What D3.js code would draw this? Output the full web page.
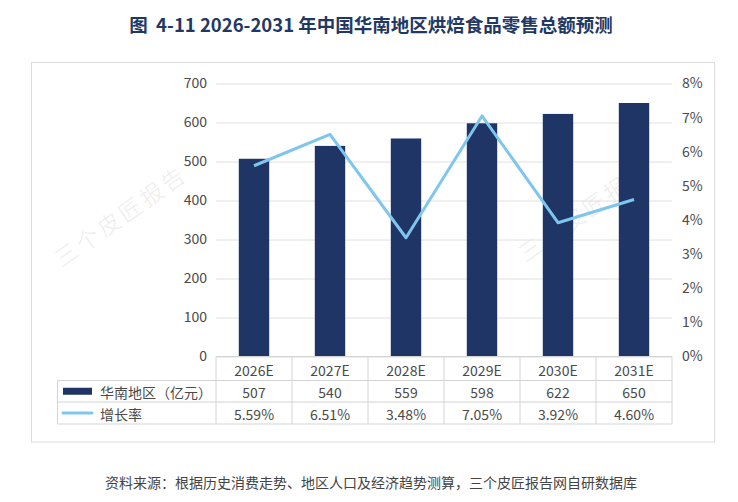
<!DOCTYPE html>
<html>
<head>
<meta charset="utf-8">
<script src="https://cdn.jsdelivr.net/npm/d3@7"></script>
<style>
  body { margin: 0; background: #fff; }
  text { font-family: "Noto Sans CJK SC", "Noto Sans", sans-serif; }
</style>
</head>
<body>
<div id="chart"></div>
<script>
const categories = ["2026E", "2027E", "2028E", "2029E", "2030E", "2031E"]
const sales = [507, 540, 559, 598, 622, 650]
const growth = [5.59, 6.51, 3.48, 7.05, 3.92, 4.60]
const leftTicks = [0, 100, 200, 300, 400, 500, 600, 700]
const rightTicks = [0, 1, 2, 3, 4, 5, 6, 7, 8]
const seriesNames = ["华南地区（亿元）", "增长率"]
const title = "图  4-11 2026-2031 年中国华南地区烘焙食品零售总额预测"
const source = "资料来源：根据历史消费走势、地区人口及经济趋势测算，三个皮匠报告网自研数据库"

const W = 738, H = 502
const margin = { left: 216, right: 66, top: 83.5, bottom: 145.5 }
const barColor = "#1f3566", lineColor = "#7fc6ef", gridColor = "#e0e0e0", tableColor = "#d4d4d4"
const textColor = "#4a4a4a"

const svg = d3.select("#chart").append("svg").attr("width", W).attr("height", H)

const x = d3.scaleBand().domain(categories).range([margin.left, W - margin.right])
const y = d3.scaleLinear().domain([0, 700]).range([H - margin.bottom, margin.top])
const y2 = d3.scaleLinear().domain([0, 8]).range([H - margin.bottom, margin.top])

// title
svg.append("text").attr("x", 371).attr("y", 32).attr("text-anchor", "middle")
  .style("white-space", "pre")
  .attr("font-size", 18.5).attr("font-weight", "bold").attr("fill", "#1f3864").text(title)

// outer frame
svg.append("rect").attr("x", 31.5).attr("y", 62.5).attr("width", 683).attr("height", 379.5)
  .attr("fill", "none").attr("stroke", "#dcdcdc")

// watermarks
const marks = [[120, 215], [584, 210]]
svg.selectAll(".wm").data(marks).join("text").attr("class", "wm")
  .attr("transform", d => `translate(${d[0]},${d[1]}) rotate(-35)`)
  .attr("text-anchor", "middle").attr("dominant-baseline", "central")
  .attr("font-size", 23).attr("letter-spacing", 3).attr("fill", "#000").attr("fill-opacity", 0.07)
  .text("三个皮匠报告")

// grid
const yAxis = d3.axisLeft(y).tickValues(leftTicks).tickSize(-(W - margin.left - margin.right)).tickPadding(9)
const gy = svg.append("g").attr("transform", `translate(${margin.left},0)`).call(yAxis)
gy.select(".domain").remove()
gy.selectAll(".tick line").attr("stroke", gridColor)
gy.selectAll(".tick text").attr("font-size", 14).attr("fill", textColor)

const y2Axis = d3.axisRight(y2).tickValues(rightTicks).tickSize(0).tickPadding(10).tickFormat(d => d + "%")
const gy2 = svg.append("g").attr("transform", `translate(${W - margin.right},0)`).call(y2Axis)
gy2.select(".domain").remove()
gy2.selectAll(".tick text").attr("font-size", 14).attr("fill", textColor)

// bars
const bw = x.bandwidth() * 0.4
svg.selectAll(".bar").data(sales).join("rect").attr("class", "bar")
  .attr("x", (d, i) => x(categories[i]) + (x.bandwidth() - bw) / 2)
  .attr("y", d => y(d)).attr("width", bw).attr("height", d => y(0) - y(d))
  .attr("fill", barColor)

// line
const line = d3.line().x((d, i) => x(categories[i]) + x.bandwidth() / 2).y(d => y2(d))
svg.append("path").datum(growth).attr("d", line).attr("fill", "none")
  .attr("stroke", lineColor).attr("stroke-width", 3).attr("stroke-linejoin", "round")

// data table
const y0 = y(0), rowH = [24, 21.5, 22]
const rowTop = [y0, y0 + rowH[0], y0 + rowH[0] + rowH[1]]
const tableBottom = rowTop[2] + rowH[2]
const tableLeft = 57.5, plotRight = W - margin.right
const tg = svg.append("g").attr("stroke", tableColor).attr("stroke-width", 1)
tg.append("line").attr("x1", margin.left).attr("x2", plotRight).attr("y1", y0).attr("y2", y0)
rowTop.slice(1).concat([tableBottom]).forEach(v =>
  tg.append("line").attr("x1", tableLeft).attr("x2", plotRight).attr("y1", v).attr("y2", v))
tg.append("line").attr("x1", tableLeft).attr("x2", tableLeft).attr("y1", rowTop[1]).attr("y2", tableBottom)
categories.concat(["end"]).forEach((c, i) => {
  const xx = i < categories.length ? x(c) : plotRight
  tg.append("line").attr("x1", xx).attr("x2", xx).attr("y1", y0).attr("y2", tableBottom)
})

const cx = c => x(c) + x.bandwidth() / 2
const rows = [categories, sales.map(String), growth.map(d => d.toFixed(2) + "%")]
rows.forEach((r, ri) => {
  svg.selectAll(".row" + ri).data(r).join("text").attr("class", "row" + ri)
    .attr("x", (d, i) => cx(categories[i])).attr("y", rowTop[ri] + rowH[ri] / 2 + 1)
    .attr("text-anchor", "middle").attr("dominant-baseline", "central")
    .attr("font-size", 14).attr("fill", textColor).text(d => d)
})

// legend keys
svg.append("rect").attr("x", 63).attr("y", rowTop[1] + rowH[1] / 2 - 3.5).attr("width", 29).attr("height", 7).attr("fill", barColor)
svg.append("line").attr("x1", 63).attr("x2", 92).attr("y1", rowTop[2] + rowH[2] / 2).attr("y2", rowTop[2] + rowH[2] / 2)
  .attr("stroke", lineColor).attr("stroke-width", 3).attr("stroke-linecap", "round")
seriesNames.forEach((n, i) => {
  svg.append("text").attr("x", 100).attr("y", rowTop[i + 1] + rowH[i + 1] / 2 + 1)
    .attr("dominant-baseline", "central").attr("font-size", 14).attr("fill", textColor).text(n)
})

// source
svg.append("text").attr("x", 371).attr("y", 488).attr("text-anchor", "middle")
  .attr("font-size", 14).attr("fill", "#444").text(source)
</script>
</body>
</html>
